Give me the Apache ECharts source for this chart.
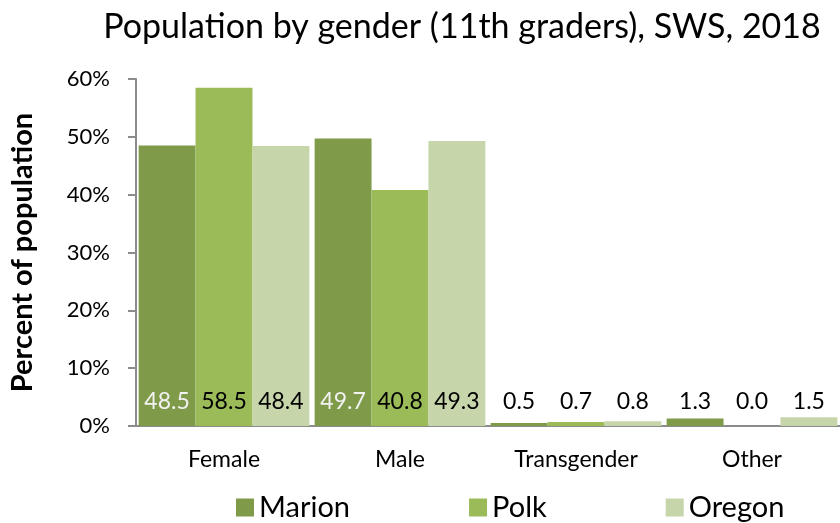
<!DOCTYPE html>
<html lang="en">
<head>
    <meta charset="UTF-8">
    <title>Population by gender</title>
    <script src="https://cdn.jsdelivr.net/npm/echarts@6/dist/echarts.min.js"></script>
    <style>
        html, body { margin: 0; padding: 0; background: #fff; }
    </style>
</head>
<body>
<div id="main" style="width: 840px;height:523px;"></div>
<script type="text/javascript">
    // data
    var categories = ['Female', 'Male', 'Transgender', 'Other'];
    var seriesNames = ['Marion', 'Polk', 'Oregon'];
    var marion = [48.5, 49.7, 0.5, 1.3];
    var polk = [58.5, 40.8, 0.7, 0.0];
    var oregon = [48.4, 49.3, 0.8, 1.5];
    var yTicks = [0, 10, 20, 30, 40, 50, 60];

    var colors = ['#7f9a48', '#9bbb59', '#c6d6aa'];
    var font = 'Lato, "Open Sans", sans-serif';

    function makeData(values, lightLabel) {
        return values.map(function (v) {
            // values big enough to hold the label get a light label inside
            var inside = lightLabel && v > 5;
            return {value: v, label: {color: inside ? '#f2f2f2' : '#000'}};
        });
    }

    var myChart = echarts.init(document.getElementById('main'));

    var labelOpt = {
        show: true,
        position: 'insideBottom',
        distance: 13,
        fontSize: 23,
        fontFamily: font,
        formatter: function (p) { return p.value.toFixed(1); }
    };

    var option = {
        animation: false,
        color: colors,
        title: {
            text: 'Population by gender (11th graders), SWS, 2018',
            left: 457,
            textAlign: 'center',
            top: 5,
            textStyle: {fontSize: 34, fontWeight: 'normal', color: '#000', fontFamily: font}
        },
        legend: {
            data: seriesNames,
            bottom: -4,
            left: 231,
            itemWidth: 18,
            itemHeight: 18,
            itemGap: 119,
            icon: 'rect',
            textStyle: {fontSize: 29, color: '#000', fontFamily: font}
        },
        grid: {
            left: 136,
            top: 79,
            right: -6,
            bottom: 97
        },
        xAxis: {
            type: 'category',
            data: categories,
            axisLine: {lineStyle: {color: '#8c8c8c', width: 2}},
            axisTick: {length: 8, lineStyle: {color: '#8c8c8c', width: 2}},
            axisLabel: {fontSize: 23, color: '#000', margin: 22, fontFamily: font}
        },
        yAxis: {
            type: 'value',
            min: yTicks[0],
            max: yTicks[yTicks.length - 1],
            interval: 10,
            name: 'Percent of population',
            nameLocation: 'middle',
            nameGap: 99,
            nameTextStyle: {fontSize: 29, fontWeight: 'bold', color: '#000', fontFamily: font},
            axisLine: {show: true, lineStyle: {color: '#8c8c8c', width: 2}},
            axisTick: {show: true, length: 8, lineStyle: {color: '#8c8c8c', width: 2}},
            splitLine: {show: false},
            axisLabel: {fontSize: 22, color: '#000', margin: 26, fontFamily: font, formatter: '{value}%'}
        },
        series: [
            {
                name: seriesNames[0], type: 'bar', barGap: '0%', barCategoryGap: '3%',
                label: labelOpt, data: makeData(marion, true)
            },
            {
                name: seriesNames[1], type: 'bar', barGap: '0%', barCategoryGap: '3%',
                label: labelOpt, data: makeData(polk, false)
            },
            {
                name: seriesNames[2], type: 'bar', barGap: '0%', barCategoryGap: '3%',
                label: labelOpt, data: makeData(oregon, false)
            }
        ]
    };

    myChart.setOption(option);
</script>
</body>
</html>
